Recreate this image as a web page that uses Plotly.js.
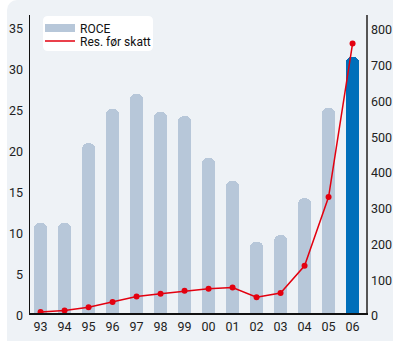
<!DOCTYPE html>
<html>
<head>
<meta charset="utf-8">
<script src="https://cdn.plot.ly/plotly-3.0.1.min.js"></script>
<style>
  html, body { margin: 0; padding: 0; background: #ffffff; }
  #wrap { position: absolute; left: 7px; top: 0; width: 386px; height: 341px;
          background: #eef2f6; border-radius: 10px 0 0 0; }
  #chart { position: absolute; left: 0; top: 0; width: 393px; height: 341px; }
</style>
</head>
<body>
<div id="wrap"></div>
<div id="chart"></div>
<script>
// Years on the category axis
const years = ['93','94','95','96','97','98','99','00','01','02','03','04','05','06'];
// Return on capital employed, % (left axis)
const roce = [11.0, 11.0, 20.7, 24.9, 26.7, 24.5, 24.0, 18.9, 16.1, 8.7, 9.5, 14.0, 25.0, 31.2];
// Result before tax (right axis)
const resForSkatt = [3, 7, 16, 31, 46, 54, 62, 68, 71, 44, 56, 132, 324, 753];

const barGrey = '#b7c7d9';
const lineRed = '#e3000f';
const barColors = years.map((y, i) => i === years.length - 1 ? '#006fba' : barGrey);
const fontFam = 'Roboto, "DejaVu Sans Condensed", sans-serif';

const traces = [
  {
    type: 'bar',
    name: 'ROCE',
    x: years,
    y: roce,
    width: 0.55,
    marker: { color: barColors, cornerradius: 6 },
    yaxis: 'y',
    showlegend: false,
    hoverinfo: 'skip'
  },
  {
    type: 'scatter',
    mode: 'lines+markers',
    name: 'Res. før skatt',
    x: years,
    y: resForSkatt,
    yaxis: 'y2',
    showlegend: false,
    line: { color: lineRed, width: 1.5 },
    marker: { color: lineRed, size: 6 },
    hoverinfo: 'skip'
  },
  // legend keys: a thick pale stroke for the bars, a plain red stroke for the line
  {
    type: 'scatter',
    mode: 'lines',
    name: 'ROCE',
    x: [years[0]],
    y: [null],
    yaxis: 'y',
    legend: 'legend',
    line: { color: barGrey, width: 8 },
    hoverinfo: 'skip'
  },
  {
    type: 'scatter',
    mode: 'lines',
    name: 'Res. før skatt',
    x: [years[0]],
    y: [null],
    yaxis: 'y2',
    legend: 'legend2',
    line: { color: lineRed, width: 1.5 },
    hoverinfo: 'skip'
  }
];

const axisFont = { family: fontFam, size: 12.5, color: '#222222' };
const legendFont = { family: fontFam, size: 12, color: '#111111' };

// Rounded white panel behind the legend (paper coordinates)
function roundedRect(x0, y0, x1, y1, rx, ry) {
  return `M ${x0 + rx} ${y0} L ${x1 - rx} ${y0} Q ${x1} ${y0} ${x1} ${y0 + ry} ` +
         `L ${x1} ${y1 - ry} Q ${x1} ${y1} ${x1 - rx} ${y1} L ${x0 + rx} ${y1} ` +
         `Q ${x0} ${y1} ${x0} ${y1 - ry} L ${x0} ${y0 + ry} Q ${x0} ${y0} ${x0 + rx} ${y0} Z`;
}
const plotW = 336, plotH = 298, plotLeft = 30, plotTop = 15;
const px = v => (v - plotLeft) / plotW;
const py = v => (plotTop + plotH - v) / plotH;

const legendBase = {
  xanchor: 'left',
  yanchor: 'middle',
  bgcolor: 'rgba(0,0,0,0)',
  borderwidth: 0,
  font: legendFont,
  itemwidth: 30
};

const layout = {
  width: 393,
  height: 341,
  margin: { l: 30, r: 27, t: 15, b: 28 },
  paper_bgcolor: 'rgba(0,0,0,0)',
  plot_bgcolor: 'rgba(0,0,0,0)',
  showlegend: true,
  bargap: 0,
  xaxis: {
    type: 'category',
    range: [-0.44, 13.56],
    showgrid: false,
    zeroline: false,
    showline: true,
    linecolor: '#111111',
    linewidth: 1.5,
    ticks: '',
    tickfont: axisFont,
    ticklabelstandoff: 1,
    fixedrange: true
  },
  yaxis: {
    range: [0, 36.3],
    tickvals: [0, 5, 10, 15, 20, 25, 30, 35],
    showgrid: false,
    zeroline: false,
    showline: true,
    linecolor: '#111111',
    linewidth: 1.5,
    ticks: '',
    tickfont: axisFont,
    ticklabelshift: 3,
    ticklabelstandoff: 3,
    fixedrange: true
  },
  yaxis2: {
    overlaying: 'y',
    side: 'right',
    range: [0, 833],
    tickvals: [0, 100, 200, 300, 400, 500, 600, 700, 800],
    showgrid: false,
    zeroline: false,
    showline: true,
    linecolor: '#555555',
    linewidth: 1.5,
    ticks: '',
    tickfont: axisFont,
    ticklabelshift: 3,
    ticklabelstandoff: 1,
    fixedrange: true
  },
  legend: Object.assign({ x: px(40), y: py(28) }, legendBase),
  legend2: Object.assign({ x: px(40), y: py(41) }, legendBase),
  shapes: [
    {
      type: 'path',
      xref: 'paper',
      yref: 'paper',
      path: roundedRect(px(43), py(51), px(153), py(16), 5 / plotW, 5 / plotH),
      fillcolor: '#ffffff',
      line: { width: 0 },
      layer: 'below'
    }
  ]
};

Plotly.newPlot('chart', traces, layout, { displayModeBar: false, staticPlot: true });
</script>
</body>
</html>
